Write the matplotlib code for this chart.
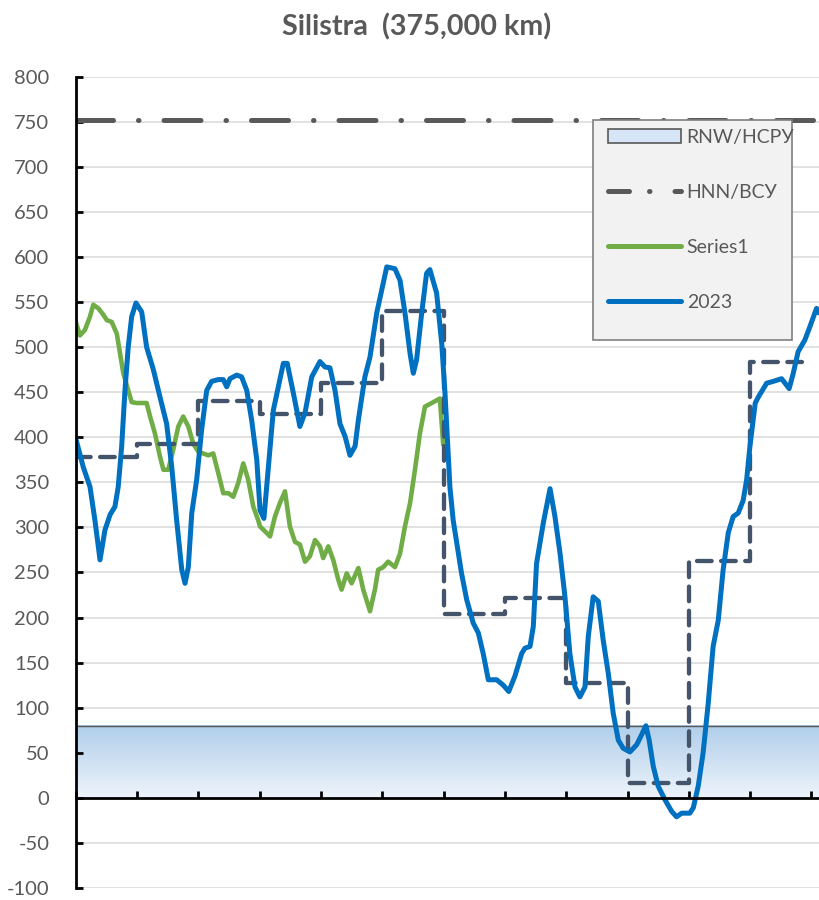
import numpy as np
import matplotlib
matplotlib.use('Agg')
import matplotlib.pyplot as plt
from matplotlib.patches import Patch, Rectangle
from matplotlib.lines import Line2D

plt.rcParams['font.family'] = ['Lato', 'Noto Sans', 'DejaVu Sans']
plt.rcParams['axes.unicode_minus'] = False

# ---- data (day of the period, water level in cm) ----
days_2023 = [0, 3.7, 7.0, 9.4, 11.9, 14.3, 16.8, 19.2, 20.8, 22.5, 24.1, 25.7, 27.4, 29.5,
             32.3, 34.7, 38.0, 41.2, 44.5, 47.0, 49.4, 51.9, 53.5, 55.1, 56.8, 59.2, 61.6,
             64.1, 66.5, 69.8, 72.2, 73.9, 75.5, 78.8, 81.2, 83.7, 86.1, 88.6, 90.2, 92.1,
             96.7, 101.6, 103.5, 106.5, 109.7, 112.2, 115.5, 119.5, 122.0, 124.4, 126.9,
             129.3, 131.8, 134.2, 136.7, 138.3, 141.5, 144.0, 147.3, 149.7, 152.2, 156.2,
             158.7, 161.1, 163.6, 165.2, 166.8, 169.3, 171.7, 173.3, 176.6, 179.1, 180.7,
             183.1, 184.7, 188.8, 191.3, 194.5, 197.0, 199.4, 201.9, 206.0, 209.2, 211.9,
             214.9, 218.2, 219.8, 222.3, 223.9, 225.5, 228.8, 232.1, 234.5, 237.0, 239.4,
             241.8, 244.3, 246.7, 249.2, 250.8, 253.2, 255.7, 258.1, 260.6, 263.0, 265.5,
             267.9, 271.2, 274.5, 276.9, 279.0, 280.6, 282.6, 285.0, 288.3, 291.6, 294.0,
             296.5, 300.5, 302.2, 304.6, 307.0, 309.5, 311.9, 314.4, 316.8, 319.3, 321.7,
             324.2, 326.6, 328.3, 329.9, 331.5, 332.5, 334.1, 338.1, 341.3, 345.4, 349.1,
             351.1, 353.5, 356.8, 359.3, 362.5, 363.7]
level_2023 = [399, 367, 345, 308, 264, 297, 314, 323, 345, 390, 452, 500, 534, 549,
              539, 500, 475, 445, 415, 367, 308, 253, 238, 256, 316, 353, 408,
              452, 462, 464, 464, 456, 465, 469, 467, 452, 419, 375, 319, 310,
              430, 482, 482, 449, 412, 427, 467, 484, 478, 477, 452,
              415, 401, 380, 390, 419, 467, 489, 538, 563, 589, 587,
              574, 538, 493, 471, 486, 538, 582, 586, 560, 504, 449,
              345, 308, 249, 220, 194, 183, 160, 131, 131, 125, 118,
              135, 160, 166, 168, 190, 260, 305, 343, 312, 271, 223,
              160, 123, 112, 123, 179, 223, 218, 175, 138, 94, 64,
              55, 51, 59, 70, 80, 64, 35, 13, -2, -15, -21,
              -17, -17, -11, 13, 50, 105, 168, 197, 253, 294, 312,
              316, 330, 353, 390, 419, 438, 445, 460, 462, 465, 454,
              471, 495, 508, 523, 543, 538]

days_series1 = [0, 2.1, 4.5, 7.0, 8.6, 11.1, 13.5, 15.2, 17.6, 20.1, 21.7, 23.3, 25.7, 27.4,
                29.8, 32.3, 34.7, 36.4, 38.8, 41.2, 42.9, 45.3, 47.7, 50.2, 52.6, 55.1,
                57.5, 60.0, 62.4, 64.9, 67.3, 69.8, 72.2, 74.7, 77.1, 79.5, 82.0, 84.4,
                86.9, 89.3, 90.2, 93.4, 95.1, 97.5, 99.9, 102.4, 104.8, 107.3, 109.7,
                112.2, 114.6, 117.1, 119.5, 121.1, 123.6, 126.0, 128.5, 130.1, 132.6,
                135.0, 138.3, 140.7, 144.0, 146.4, 148.0, 150.5, 152.9, 156.2, 158.7,
                161.1, 163.6, 166.0, 168.4, 170.9, 174.2, 178.2, 179.8]
level_series1 = [528, 513, 519, 534, 547, 543, 536, 530, 528, 515, 493, 471, 452, 439,
                 438, 438, 438, 423, 404, 379, 364, 364, 386, 412, 423, 412,
                 393, 384, 382, 380, 382, 360, 338, 338, 334, 349, 371, 353,
                 323, 308, 301, 294, 290, 312, 327, 340, 301, 284, 281,
                 262, 268, 286, 279, 266, 279, 264, 242, 231, 249,
                 238, 255, 231, 207, 231, 253, 256, 262, 256, 271,
                 301, 327, 364, 404, 434, 438, 443, 393]

month_edges = [0, 30, 60, 90, 120, 150, 180, 210, 240, 270, 300, 330, 360]
month_mean = [378, 392, 440, 426, 460, 540, 204, 222, 127, 16, 263, 483]

rnw_level = 80
hnn_level = 752

W, H = 819, 900

# ---- figure ----
fig = plt.figure(figsize=(W / 100, H / 100), dpi=100)
ax = fig.add_axes([75.7 / W, 1 - 888 / H, 1 - 75.7 / W, (888 - 76.7) / H])
xmax = 363.7
ax.set_xlim(0, xmax)
ax.set_ylim(-100, 800)

yticks = list(range(-100, 801, 50))
ax.set_yticks(yticks)
# horizontal gridlines, kept under everything else
for v in yticks:
    if v != 0:
        ax.axhline(v, color='#D9D9D9', lw=1.1, zorder=0.5)
ax.set_axisbelow(False)

# RNW band with vertical gradient
grad = np.linspace(0, 1, 200).reshape(-1, 1)
top = np.array([176, 206, 234]) / 255
bot = np.array([238, 244, 251]) / 255
img = bot + (top - bot) * grad[..., None]
ax.imshow(img, extent=[0, xmax, 0, rnw_level], origin='lower', aspect='auto',
          zorder=1, interpolation='bilinear')
ax.axhline(rnw_level, color='#595959', lw=1.0, zorder=2)

# HNN line
ax.axhline(hnn_level, color='#595959', lw=3.6, zorder=3, solid_capstyle='round',
           dash_capstyle='round', linestyle=(0, (7.4, 5.0, 0.1, 5.0)))

# Series1, monthly steps and 2023
ax.plot(days_series1, level_series1, color='#70AD47', lw=3.3, zorder=4,
        solid_joinstyle='round')
step_y = month_mean + [month_mean[-1]]
ax.step(month_edges, step_y, where='post', color='#44546A', lw=3.1, zorder=5,
        linestyle=(0, (3.4, 2.2)), dash_capstyle='round')
ax.plot(days_2023, level_2023, color='#0070C0', lw=3.6, zorder=6,
        solid_joinstyle='round', solid_capstyle='round')

# axes styling
for s in ['top', 'right']:
    ax.spines[s].set_visible(False)
ax.spines['left'].set_linewidth(2.0)
ax.spines['bottom'].set_linewidth(2.0)
ax.spines['bottom'].set_position(('data', 0))
ax.spines['left'].set_zorder(7)
ax.spines['bottom'].set_zorder(7)
ax.set_xticks(month_edges)
ax.set_xticklabels([])
ax.tick_params(axis='x', direction='in', length=5, width=2, color='black')
ax.tick_params(axis='y', direction='in', length=5, width=2, color='black',
               labelsize=14.5, labelcolor='#595959', pad=19)
ax.set_yticklabels([str(v) for v in yticks])

fig.text(417 / W, 1 - 27 / H, 'Silistra  (375,000 km)', ha='center', va='center',
         fontsize=20.7, fontweight='bold', color='#595959')

# legend: frame drawn separately, entries placed inside
frame = Rectangle((593 / W, 1 - 340 / H), 199 / W, 220 / H, transform=fig.transFigure,
                  facecolor='#F2F2F2', edgecolor='#7F7F7F', lw=1.2, zorder=9)
fig.add_artist(frame)

handles = [
    Patch(facecolor='#D6E6F6', edgecolor='#595959', linewidth=1.2),
    Line2D([], [], color='#595959', lw=3.6, solid_capstyle='round', dash_capstyle='round',
           linestyle=(0, (4.2, 4.0, 0.1, 5.0))),
    Line2D([], [], color='#70AD47', lw=3.6, solid_capstyle='round'),
    Line2D([], [], color='#0070C0', lw=3.6, solid_capstyle='round'),
]
labels = ['RNW/НСРУ', 'HNN/ВСУ', 'Series1', '2023']
leg = fig.legend(handles, labels, loc='upper left',
                 bbox_to_anchor=(608 / W, 1 - 129 / H), bbox_transform=fig.transFigure,
                 fontsize=14, labelcolor='#595959', frameon=False,
                 handlelength=3.75, handletextpad=0.3, labelspacing=1.95,
                 borderpad=0, borderaxespad=0)
leg.set_zorder(10)

fig.savefig('out.png', dpi=100)
